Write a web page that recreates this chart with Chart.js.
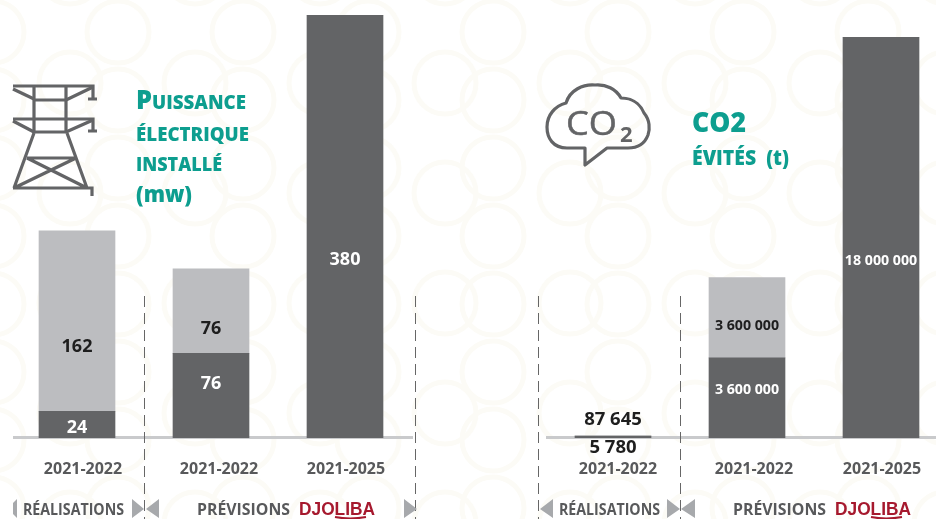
<!DOCTYPE html>
<html lang="fr">
<head>
<meta charset="utf-8">
<title>Puissance installée et CO2 évités</title>
<script src="https://cdn.jsdelivr.net/npm/chart.js@4"></script>
<style>
    html, body { margin: 0; padding: 0; background: #fff; }
    #page { position: relative; width: 936px; height: 519px; overflow: hidden; font-family: "Open Sans", sans-serif; }
    #page svg, #page canvas { position: absolute; top: 0; }
    #page svg { left: 0; }
    #bg { z-index: 0; }
    #overlay { z-index: 2; }
    #powerChart { left: 0; z-index: 1; }
    #co2Chart { left: 536px; z-index: 1; }
    .title { fill: #0d9e8f; font-weight: 800; }
    .foot { fill: #58595b; font-weight: 700; font-size: 16px; }
    .logo { fill: #a6192e; font-family: "Liberation Sans", sans-serif; font-weight: 700; font-size: 18px; }
</style>
</head>
<body>
<div id="page">
    <svg id="bg" width="936" height="519" fill="none" stroke="#fcfbf6" stroke-width="5"></svg>

    <canvas id="powerChart" width="468" height="519"></canvas>
    <canvas id="co2Chart" width="420" height="519"></canvas>

    <svg id="overlay" width="936" height="519">
        <!-- pylone -->
        <g fill="none" stroke="#636466" stroke-width="3.2">
            <path d="M13 86H93V100M88 99H97M13 119H93V132M88 131H97M34 86V133M66 86V133M34 100H66M34 132H66"/>
            <path d="M13 89L34 99M93 87L66 100M13 121L34 132M93 120L66 132"/>
            <path d="M34 133L14 188M67 133L87 188M27 158H76M13 188H92V196M27 158L87 188M76 158L14 188"/>
        </g>
        <!-- nuage -->
        <path d="M585 165V148H567C553 148 547 138 547 127C547 115 555 106 566 103C570 90 583 84 595 85C606 84 616 89 621 98C636 98 642 108 644 113C650 120 650 129 648 135C645 143 638 148 628 148H607Z"
              fill="none" stroke="#636466" stroke-width="3.2" stroke-linejoin="round"/>
        <text x="566" y="135" font-size="33" textLength="51" lengthAdjust="spacingAndGlyphs" fill="#636466" stroke="#636466" stroke-width=".5">CO</text>
        <text x="620" y="142" font-size="22" font-weight="700" fill="#636466">2</text>

        <text class="title" x="136" y="109" font-size="20" textLength="110" lengthAdjust="spacingAndGlyphs"><tspan font-size="27">P</tspan>UISSANCE</text>
        <text class="title" x="136" y="141" font-size="20" textLength="113" lengthAdjust="spacingAndGlyphs">ÉLECTRIQUE</text>
        <text class="title" x="136" y="171" font-size="20" textLength="86" lengthAdjust="spacingAndGlyphs">INSTALLÉ</text>
        <text class="title" x="136" y="202" font-size="23" textLength="56" lengthAdjust="spacingAndGlyphs">(mw)</text>
        <text class="title" x="692" y="132" font-size="29" textLength="54" lengthAdjust="spacingAndGlyphs">CO2</text>
        <text class="title" x="692" y="165" font-size="21" textLength="97" lengthAdjust="spacingAndGlyphs" xml:space="preserve">ÉVITÉS  (t)</text>

        <g stroke="#666" stroke-width="1" stroke-dasharray="11 6" fill="none">
            <path d="M144.5 296V519M415.5 296V519M538.5 296V519M680.5 296V519"/>
        </g>
        <g fill="#a7a9ac">
            <path d="M17 499V518L13 514V503Z"/>
            <path d="M132 499L144 509L132 518ZM159 499L146 509L159 518ZM404 499L417 509L404 518Z"/>
            <path d="M553 499L540 509L553 518ZM667 499L680 509L667 518ZM695 499L681 509L695 518Z"/>
        </g>
        <text class="foot" x="23" y="515" textLength="101" lengthAdjust="spacingAndGlyphs">RÉALISATIONS</text>
        <text class="foot" x="197" y="515" textLength="93" lengthAdjust="spacingAndGlyphs">PRÉVISIONS</text>
        <text class="logo" x="299" y="515" textLength="76" lengthAdjust="spacingAndGlyphs">DJOLIBA</text>
        <path d="M335 517Q350 520 366 517" stroke="#a6192e" stroke-width="2" fill="none"/>
        <text class="foot" x="559" y="515" textLength="101" lengthAdjust="spacingAndGlyphs">RÉALISATIONS</text>
        <text class="foot" x="733" y="515" textLength="93" lengthAdjust="spacingAndGlyphs">PRÉVISIONS</text>
        <text class="logo" x="835" y="515" textLength="76" lengthAdjust="spacingAndGlyphs">DJOLIBA</text>
        <path d="M871 517Q886 520 902 517" stroke="#a6192e" stroke-width="2" fill="none"/>
    </svg>
</div>

<script>
const powerYears = ['2021-2022', '2021-2022', '2021-2025'];
const powerDark = [24, 76, 380];
const powerLight = [162, 76, 0];

const co2Years = ['2021-2022', '2021-2022', '2021-2025'];
const co2Dark = [87645, 3600000, 18000000];
const co2Light = [5780, 3600000, 0];

const DARK_BAR = '#636466';
const LIGHT_BAR = '#bcbdc0';
const BASELINE = 438;

// the value labels and year labels sit off-centre in the original, by hand
const powerShift = { dark: [3.5, -12, 33], light: [26, 18, 0], ticks: [6, 8, 1] };
const co2Shift = { dark: [-17, -8, 23], light: [12, 8, 0], ticks: [5, 7, 1] };

// pale ring pattern behind everything
const bgSvg = document.getElementById('bg');
function addRing(cx, cy) {
    const ring = document.createElementNS('http://www.w3.org/2000/svg', 'circle');
    ring.setAttribute('cx', cx);
    ring.setAttribute('cy', cy);
    ring.setAttribute('r', 31);
    bgSvg.appendChild(ring);
}
for (let cx = -55; cx < 960; cx += 125) {
    for (let cy = -27; cy < 540; cy += 110) addRing(cx, cy);
    for (let cy = -36; cy < 540; cy += 68) addRing(cx + 48, cy);
}

function frenchNumber(v) {
    return String(v).replace(/\B(?=(\d{3})+$)/g, ' ');
}

// draws the grey axis line under the bars
const baselinePlugin = {
    id: 'baseline',
    beforeDatasetsDraw(chart, args, opts) {
        const y = chart.scales.y.getPixelForValue(0);
        const ctx = chart.ctx;
        ctx.save();
        ctx.fillStyle = '#c9cacc';
        ctx.fillRect(opts.from, y - 2, opts.to - opts.from, 3);
        ctx.restore();
    }
};

const tickNudgePlugin = {
    id: 'tickNudge',
    afterUpdate(chart, args, opts) {
        chart.scales.x.getLabelItems().forEach((item, i) => {
            item.options.translation = [item.options.translation[0] + opts.shift[i], item.options.translation[1]];
        });
    }
};

// value labels on the bars
const valueLabelPlugin = {
    id: 'valueLabels',
    afterDatasetsDraw(chart, args, opts) {
        const ctx = chart.ctx;
        ctx.save();
        ctx.textAlign = 'center';
        ctx.textBaseline = 'middle';
        chart.data.datasets.forEach((ds, d) => {
            const shift = d === 0 ? opts.shift.dark : opts.shift.light;
            chart.getDatasetMeta(d).data.forEach((bar, i) => {
                if (!ds.data[i]) return;
                const outside = bar.base - bar.y < 10 || (d === 1 && bar.height < 10);
                const mid = (bar.y + bar.base) / 2;
                ctx.font = '700 ' + opts.size(ds.data[i], outside) + 'px "Open Sans"';
                ctx.fillStyle = outside || d === 1 ? '#1e1e1e' : '#fff';
                ctx.fillText(frenchNumber(ds.data[i]), bar.x, mid + shift[i]);
            });
        });
        ctx.restore();
    }
};

function makeChart(id, years, dark, light, yMax, top, left, right, lineFrom, lineTo, shift, size) {
    return new Chart(document.getElementById(id), {
        type: 'bar',
        data: {
            labels: years,
            datasets: [
                { data: dark, backgroundColor: DARK_BAR, barThickness: 76 },
                { data: light, backgroundColor: LIGHT_BAR, barThickness: 76 }
            ]
        },
        options: {
            responsive: false,
            animation: false,
            layout: { padding: { top: top, left: left, right: right, bottom: 0 } },
            plugins: {
                legend: { display: false },
                tooltip: { enabled: false },
                baseline: { from: lineFrom, to: lineTo },
                tickNudge: { shift: shift.ticks },
                valueLabels: { shift: shift, size: size }
            },
            scales: {
                x: {
                    stacked: true,
                    grid: { display: false },
                    border: { display: false },
                    ticks: {
                        padding: 14,
                        maxRotation: 0,
                        color: '#58595b',
                        font: { family: 'Open Sans', weight: '700', size: 16 }
                    },
                    afterFit(scale) { scale.height = 519 - BASELINE; }
                },
                y: { stacked: true, display: false, min: 0, max: yMax }
            }
        },
        plugins: [baselinePlugin, tickNudgePlugin, valueLabelPlugin]
    });
}

makeChart('powerChart', powerYears, powerDark, powerLight, 380, 15, 10, 56, 13, 413, powerShift, () => 18);
makeChart('co2Chart', co2Years, co2Dark, co2Light, 18000000, 37, 10, 8, 10, 420, co2Shift,
    (v, outside) => (outside ? 18.5 : 14.2));
</script>
</body>
</html>
